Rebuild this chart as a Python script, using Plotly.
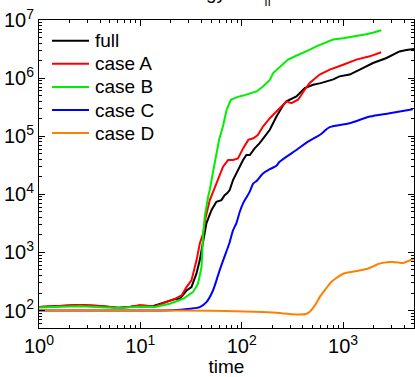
import numpy as np
import plotly.graph_objects as go

# ---- data ----
t_full = [1, 1.5, 2.5, 4, 6, 8, 10, 13, 16, 19.5, 22, 24.5, 26.5, 28.5, 31.9, 35.7, 38.5, 41.6, 44.8, 50.2,
          56.2, 63, 67.8, 72, 76, 82, 91.7, 103, 111, 120, 134, 150, 168, 189, 220, 258, 276, 296, 346,
          418, 506, 600, 683, 800, 920, 1160, 1460, 1970, 2680, 3600, 4200, 5000]
y_full = [115, 120, 125, 120, 112, 116, 122, 118, 132, 149, 158, 159, 190, 221, 253, 430, 730, 1620, 3160, 5340,
          7420, 7940, 9690, 10500, 11800, 17600, 26200, 38900, 47500, 47500, 61700, 75900, 98400, 129000,
          218000, 347000, 398000, 420000, 483000, 676000, 770000, 820000, 877000, 950000, 1.07e6, 1.15e6,
          1.4e6, 1.82e6, 2.22e6, 2.88e6, 3.05e6, 3.16e6]

t_A = [1, 1.5, 2.5, 4, 6.3, 8, 9.9, 13.9, 16, 18.1, 21.9, 25.5, 28.5, 31.9, 35.8, 38.6, 41.6, 44, 48.4, 56.3,
       65.4, 73.3, 82, 91.7, 103, 116, 130, 144, 162, 189, 220, 250, 276, 309, 359, 418, 468, 587, 738, 1000,
       1350, 1830, 2377]
y_A = [115, 120, 125, 120, 111, 116, 123, 117, 128, 139, 159, 182, 253, 330, 730, 1435, 2110, 4000, 7940, 15400,
       29900, 38900, 38900, 41600, 61700, 86300, 92200, 105000, 146600, 204000, 266000, 330000, 398000, 371000,
       424000, 631000, 822000, 1.15e6, 1.4e6, 1.7e6, 2.08e6, 2.37e6, 2.78e6]

t_B = [1, 2.5, 6, 10, 14, 19.5, 26.4, 33, 37, 40.1, 41.6, 43.2, 46.6, 48.4, 52, 56.3, 60, 65.4, 70.7, 78, 90,
       103, 120, 140, 162, 189, 204, 240, 286, 340, 403, 470, 545, 650, 794, 1000, 1160, 1400, 1690, 2000, 2377]
y_B = [113, 118, 110, 116, 115, 131, 159, 207, 288, 560, 2000, 4200, 9060, 12000, 24000, 48000, 90000, 150000,
       280000, 424000, 470000, 500000, 540000, 590000, 719000, 933000, 1.22e6, 1.6e6, 2.08e6, 2.4e6, 2.71e6,
       3.1e6, 3.52e6, 4.0e6, 4.6e6, 4.85e6, 5.05e6, 5.3e6, 5.7e6, 6.1e6, 6.67e6]

t_C = [1, 5, 10, 20, 30.7, 38.5, 44.8, 52, 60.5, 70, 76, 82, 88.6, 95.6, 103, 119.6, 130, 140, 162, 189, 220,
       236, 346, 451, 587, 738, 1160, 1830, 2880, 4860]
y_C = [100, 100, 100, 101, 107, 114, 139, 221, 490, 1000, 1500, 2400, 3200, 5000, 7000, 11000, 15400, 17000,
       22900, 27000, 31000, 36300, 58000, 80700, 105000, 143000, 167000, 218000, 249000, 292000]

t_D = [1, 10, 50, 108, 200, 297, 371, 430, 468, 530, 587, 680, 762, 870, 1000, 1200, 1350, 1740, 2000, 2270,
       2700, 3060, 3500, 3860, 4300, 5000]
y_D = [100, 100, 99, 96, 92, 87, 85, 87, 95, 125, 170, 240, 309, 370, 430, 460, 478, 525, 580, 640, 680, 683,
       670, 656, 700, 790]

names = ["full", "case A", "case B", "case C", "case D"]
colors = ["#000000", "#ff0000", "#00ee00", "#0000ff", "#ff8000"]

x_ticks = [1, 10, 100, 1000]
x_ticktext = ["10<sup>0</sup>", "10<sup>1</sup>", "10<sup>2</sup>", "10<sup>3</sup>"]
y_ticks = [1e2, 1e3, 1e4, 1e5, 1e6, 1e7]
y_ticktext = ["10<sup>2</sup>", "10<sup>3</sup>", "10<sup>4</sup>", "10<sup>5</sup>", "10<sup>6</sup>", "10<sup>7</sup>"]

FONT = "Liberation Sans, Arial, sans-serif"

# layout geometry (pixels)
W, H = 415, 377
ML, MR, MT, MB = 39, 1, 20, 49
PW, PH = W - ML - MR, H - MT - MB

fig = go.Figure()
series = [(t_full, y_full), (t_A, y_A), (t_B, y_B), (t_C, y_C), (t_D, y_D)]
for (tx, ty), nm, col in zip(series, names, colors):
    smooth = nm in ("case C", "case D")
    fig.add_trace(go.Scatter(
        x=tx, y=ty, mode="lines", name=nm, showlegend=False,
        line=dict(color=col, width=2, shape="spline" if smooth else "linear", smoothing=0.8),
    ))

# legend drawn as keys inside the top-left corner of the axes
leg_x0, leg_x1, leg_tx = 52, 89, 93
leg_y0, leg_dy = 40.7, 23.1
for i, (nm, col) in enumerate(zip(names, colors)):
    py = leg_y0 + i * leg_dy
    yp = 1 - (py - MT) / PH
    fig.add_shape(type="line", xref="paper", yref="paper",
                  x0=(leg_x0 - ML) / PW, x1=(leg_x1 - ML) / PW, y0=yp, y1=yp,
                  line=dict(color=col, width=2))
    fig.add_annotation(text=nm, xref="paper", yref="paper", x=(leg_tx - ML) / PW, y=yp,
                       xanchor="left", yanchor="middle", showarrow=False,
                       font=dict(family=FONT, size=19, color="black"))

minor_x = [k * 10 ** e for e in range(0, 4) for k in range(2, 10) if k * 10 ** e <= 5000]
minor_y = [k * 10 ** e for e in range(1, 7) for k in range(2, 10) if 50 <= k * 10 ** e <= 1e7]

axis_common = dict(
    type="log", showline=True, linecolor="black", linewidth=1, mirror="ticks",
    ticks="inside", ticklen=6, tickcolor="black", showgrid=False, zeroline=False,
    tickfont=dict(family=FONT, size=20, color="black"),
)

fig.update_xaxes(
    **axis_common,
    range=[0, np.log10(5000)],
    tickvals=x_ticks, ticktext=x_ticktext,
    minor=dict(tickvals=minor_x, ticks="inside", ticklen=3, tickcolor="black"),
    title=dict(text="time", font=dict(family=FONT, size=19, color="black"), standoff=2),
)
fig.update_yaxes(
    **axis_common,
    range=[np.log10(50), 7],
    tickvals=y_ticks, ticktext=y_ticktext,
    minor=dict(tickvals=minor_y, ticks="inside", ticklen=3, tickcolor="black"),
)

fig.add_annotation(
    text="energy in E<sub>||</sub>", xref="paper", yref="paper", x=0.48, y=1.086,
    xanchor="center", yanchor="middle", showarrow=False,
    font=dict(family=FONT, size=19, color="black"),
)

fig.update_layout(
    width=W, height=H,
    margin=dict(l=ML, r=MR, t=MT, b=MB),
    paper_bgcolor="white", plot_bgcolor="white",
    font=dict(family=FONT, size=19, color="black"),
    showlegend=False,
)

fig.write_html("out.html")
